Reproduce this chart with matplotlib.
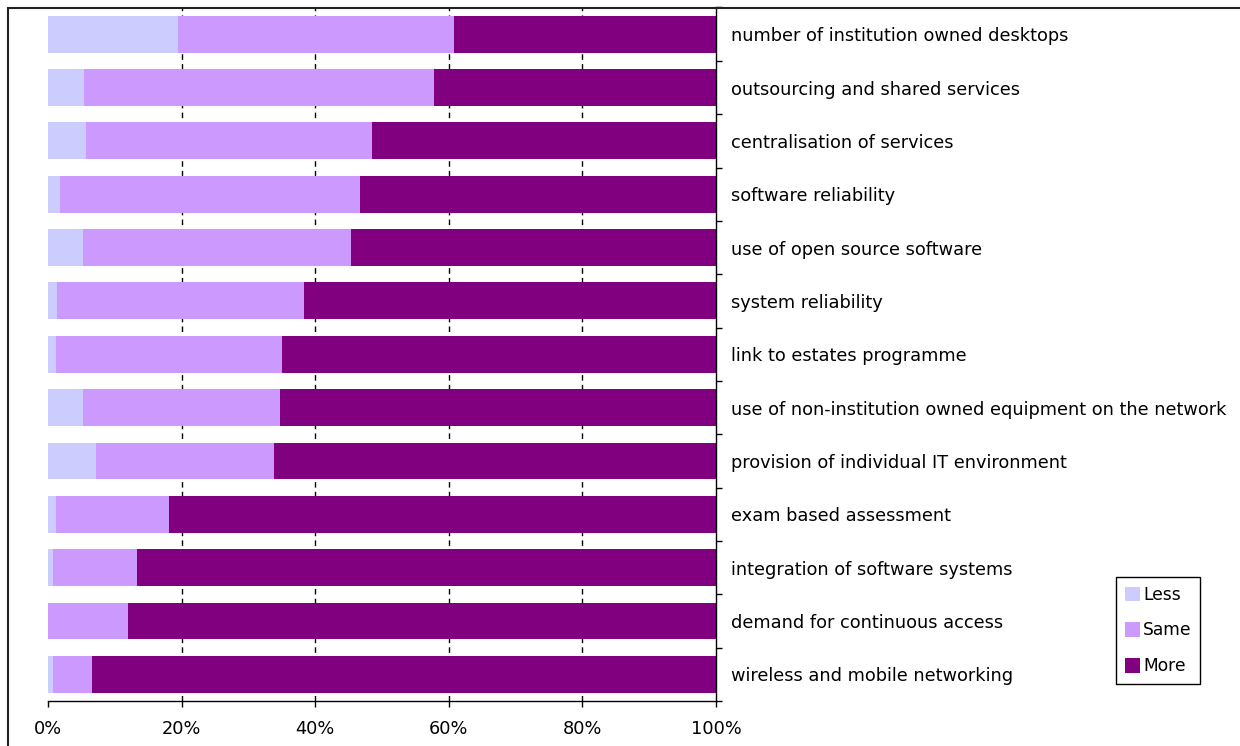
import numpy as np
import matplotlib.pyplot as plt
from matplotlib.patches import Rectangle, Patch

plt.rcParams['font.family'] = 'DejaVu Sans'

kategorie = [
    "number of institution owned desktops",
    "outsourcing and shared services",
    "centralisation of services",
    "software reliability",
    "use of open source software",
    "system reliability",
    "link to estates programme",
    "use of non-institution owned equipment on the network",
    "provision of individual IT environment",
    "exam based assessment",
    "integration of software systems",
    "demand for continuous access",
    "wireless and mobile networking",
]
less = [19.5, 5.4, 5.7, 1.8, 5.2, 1.3, 1.2, 5.2, 7.2, 1.2, 0.7, 0.0, 0.7]
same = [41.3, 52.4, 42.8, 44.9, 40.2, 37.0, 33.8, 29.5, 26.6, 16.9, 12.6, 12.0, 5.9]
more = [100 - a - b for a, b in zip(less, same)]

kolory = {"Less": "#CCCCFF", "Same": "#CC99FF", "More": "#800080"}

W, H = 1240, 746
fig = plt.figure(figsize=(W / 100, H / 100), dpi=100)
ax = fig.add_axes([48 / W, (H - 701) / H, (716 - 48) / W, (701 - 7.5) / H])

y = np.arange(len(kategorie))
left = np.zeros(len(kategorie))
for nazwa, wart in [("Less", less), ("Same", same), ("More", more)]:
    ax.barh(y, wart, left=left, height=0.69, color=kolory[nazwa], zorder=2)
    left += np.array(wart)

ax.set_xlim(0, 100)
ax.set_ylim(len(kategorie) - 0.5, -0.5)

# siatka pionowa przerywana
ax.set_xticks(np.arange(0, 101, 20))
ax.set_xticklabels([f"{v}%" for v in range(0, 101, 20)], fontsize=12.8)
for v in range(20, 100, 20):
    ax.axvline(v, color="black", lw=1, ls=(0, (4, 3)), zorder=1)

# etykiety kategorii po prawej
ax.yaxis.tick_right()
ax.set_yticks(y)
ax.set_yticklabels(kategorie, fontsize=12.75)
ax.tick_params(axis="y", length=0, pad=10.8)
ax.set_yticks(np.arange(-0.5, len(kategorie), 1), minor=True)
ax.tick_params(axis="y", which="minor", length=4.5, width=1, right=True, left=False, direction="out")
ax.tick_params(axis="x", length=4.5, width=1, direction="out", pad=9)

ax.spines["top"].set_visible(False)
ax.spines["left"].set_visible(False)
ax.spines["right"].set_linewidth(1)
ax.spines["bottom"].set_linewidth(1)

# ramka wykresu
fig.patches.append(Rectangle((8 / W, -0.1), 1.2, (H - 8) / H + 0.1, transform=fig.transFigure,
                             fill=False, edgecolor="#222222", lw=1.5))

uchwyty = [Patch(facecolor=kolory[k], edgecolor="none", label=k) for k in ["Less", "Same", "More"]]
leg = fig.legend(handles=uchwyty, loc="upper left",
                 bbox_to_anchor=(1116 / W, (H - 577) / H), fontsize=12.3,
                 frameon=True, fancybox=False, edgecolor="black", framealpha=1,
                 handlelength=0.9, handleheight=0.9, handletextpad=0.2,
                 labelspacing=1.05, borderpad=0.5, borderaxespad=0)
leg.get_frame().set_linewidth(1)

fig.savefig("out.png", dpi=100)
